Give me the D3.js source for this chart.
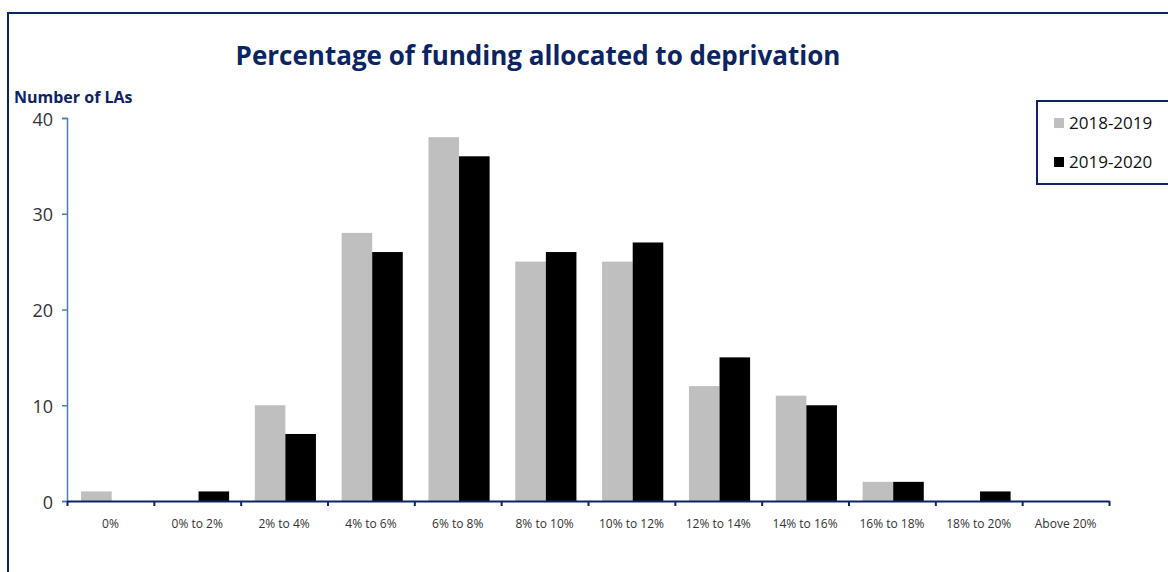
<!DOCTYPE html>
<html>
<head>
<meta charset="utf-8">
<script src="https://cdn.jsdelivr.net/npm/d3@7"></script>
<style>
  body { margin: 0; background: #fff; }
  svg { display: block; }
</style>
</head>
<body>
<div id="chart"></div>
<script>
const categories = ["0%", "0% to 2%", "2% to 4%", "4% to 6%", "6% to 8%", "8% to 10%",
  "10% to 12%", "12% to 14%", "14% to 16%", "16% to 18%", "18% to 20%", "Above 20%"];
const series = ["2018-2019", "2019-2020"];
const values2018 = [1, 0, 10, 28, 38, 25, 25, 12, 11, 2, 0, 0];
const values2019 = [0, 1, 7, 26, 36, 26, 27, 15, 10, 2, 1, 0];
const yTicks = [0, 10, 20, 30, 40];

const width = 1168, height = 572,
  margin = { top: 118, bottom: 71, left: 67, right: 59 };

const navy = "#0c2461";
const colors = { "2018-2019": "#bfbfbf", "2019-2020": "#000000" };

const data = categories.map((c, i) => ({
  cat: c,
  vals: [{ key: series[0], v: values2018[i] }, { key: series[1], v: values2019[i] }]
}));

const svg = d3.select("#chart").append("svg")
  .attr("width", width)
  .attr("height", height);

// frame round the chart
svg.append("rect")
  .attr("x", 8).attr("y", 13)
  .attr("width", 1200).attr("height", 600)
  .attr("fill", "none")
  .attr("stroke", navy)
  .attr("stroke-width", 2);

const x = d3.scaleBand()
  .domain(categories)
  .range([margin.left, width - margin.right]);

const x1 = d3.scaleBand()
  .domain(series)
  .range([0, x.bandwidth()])
  .paddingOuter(0.42)
  .paddingInner(0)
  .align(0.55);

const y = d3.scaleLinear()
  .domain([0, 40])
  .range([height - margin.bottom, margin.top]);

// bars
svg.append("g")
  .selectAll("g")
  .data(data)
  .join("g")
  .attr("transform", d => `translate(${x(d.cat)},0)`)
  .selectAll("rect")
  .data(d => d.vals)
  .join("rect")
  .attr("x", d => x1(d.key))
  .attr("y", d => y(d.v))
  .attr("width", x1.bandwidth())
  .attr("height", d => y(0) - y(d.v))
  .attr("fill", d => colors[d.key]);

// y axis
const yAxis = svg.append("g")
  .attr("transform", `translate(${margin.left},0)`)
  .call(d3.axisLeft(y).tickValues(yTicks).tickSize(5).tickPadding(9));
yAxis.select(".domain").attr("stroke", "#4a7ebb").attr("stroke-width", 1.5);
yAxis.selectAll(".tick line").attr("stroke", "#4a7ebb").attr("stroke-width", 1.5);
yAxis.selectAll(".tick text")
  .attr("font-family", "'Open Sans', sans-serif")
  .attr("font-size", 18)
  .attr("dy", "0.4em")
  .attr("fill", "#333");

// x axis: tick marks at category boundaries
const xb = d3.scaleLinear()
  .domain([0, categories.length])
  .range([margin.left, width - margin.right]);
const xTicks = svg.append("g")
  .attr("transform", `translate(0,${y(0)})`)
  .call(d3.axisBottom(xb).ticks(categories.length).tickSize(5).tickFormat(""));
xTicks.select(".domain").remove();
xTicks.selectAll(".tick line").attr("stroke", navy).attr("stroke-width", 2);

const xAxis = svg.append("g")
  .attr("transform", `translate(0,${y(0)})`)
  .call(d3.axisBottom(x).tickSize(0).tickPadding(18).tickSizeOuter(0));
xAxis.select(".domain").attr("stroke", navy).attr("stroke-width", 2);
xAxis.selectAll(".tick text")
  .attr("font-family", "'Open Sans', sans-serif")
  .attr("font-size", 12)
  .attr("fill", "#333");

// title
svg.append("text")
  .attr("x", 538)
  .attr("y", 65)
  .attr("text-anchor", "middle")
  .attr("font-family", "'Open Sans', sans-serif")
  .attr("font-weight", "bold")
  .attr("font-size", 26)
  .attr("fill", navy)
  .text("Percentage of funding allocated to deprivation");

svg.append("text")
  .attr("x", 14)
  .attr("y", 103)
  .attr("font-family", "'Open Sans', sans-serif")
  .attr("font-weight", "bold")
  .attr("font-size", 16)
  .attr("fill", navy)
  .text("Number of LAs");

// legend
const legend = svg.append("g");
legend.append("rect")
  .attr("x", 1037).attr("y", 101)
  .attr("width", 140).attr("height", 83)
  .attr("fill", "#fff")
  .attr("stroke", navy)
  .attr("stroke-width", 2);

const li = legend.selectAll("g.item")
  .data(series)
  .join("g")
  .attr("class", "item")
  .attr("transform", (d, i) => `translate(1054,${118 + i * 39})`);
li.append("rect")
  .attr("width", 10).attr("height", 10)
  .attr("fill", d => colors[d]);
li.append("text")
  .attr("x", 15)
  .attr("y", 11)
  .attr("font-family", "'Open Sans', sans-serif")
  .attr("font-size", 17)
  .attr("fill", "#111")
  .text(d => d);
</script>
</body>
</html>
